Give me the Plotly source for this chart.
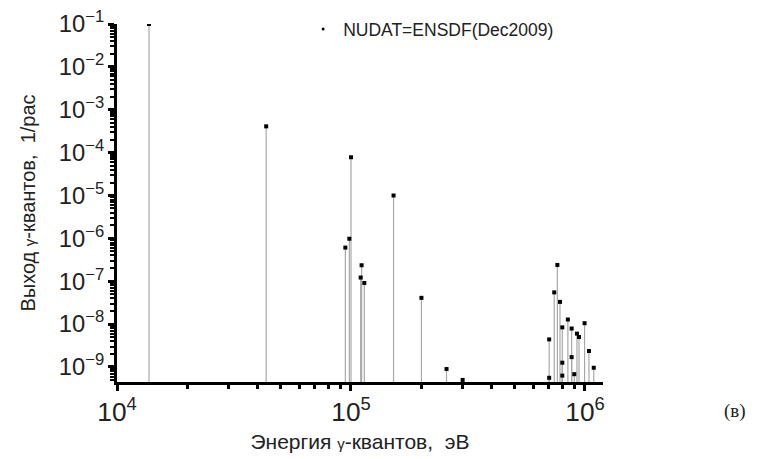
import plotly.graph_objects as go

# Gamma-line energies (eV) and yields (1/decay)
energies = [1.37e4, 4.34e4, 9.46e4, 9.84e4, 1.00e5, 1.10e5, 1.11e5, 1.14e5,
            1.52e5, 2.00e5, 2.56e5, 3.00e5,
            7.03e5, 7.03e5, 7.39e5, 7.62e5, 7.82e5, 8.00e5, 8.00e5, 8.00e5,
            8.45e5, 8.77e5, 8.77e5, 9.00e5, 9.24e5, 9.43e5, 9.96e5, 1.04e6, 1.09e6]
yields = [1.0e-1, 4.1e-4, 6.1e-7, 9.8e-7, 7.8e-5, 1.22e-7, 2.36e-7, 9.1e-8,
          1.0e-5, 4.1e-8, 9.0e-10, 5.0e-10,
          4.4e-9, 5.6e-10, 5.5e-8, 2.4e-7, 3.3e-8, 8.4e-9, 1.26e-9, 6.3e-10,
          1.28e-8, 7.9e-9, 1.7e-9, 6.8e-10, 6.0e-9, 5.0e-9, 1.05e-8, 2.36e-9, 9.6e-10]

legend_name = "NUDAT=ENSDF(Dec2009)"
x_title = "Энергия <span style='font-size:15px'>γ</span>-квантов,  эВ"
y_title = "Выход <span style='font-size:15px'>γ</span>-квантов,  1/рас"
panel_label = "(в)"

x_log_range = [4, 6.077]
y_log_range = [-9.35, -1]
y_floor = 10 ** y_log_range[0]

stem_x, stem_y = [], []
for e, v in zip(energies, yields):
    stem_x += [e, e, None]
    stem_y += [y_floor, v, None]

font_family = "Liberation Sans, Arial, sans-serif"

fig = go.Figure()
fig.add_trace(go.Scatter(
    x=stem_x, y=stem_y, mode="lines",
    line=dict(color="#a8a8a8", width=1.2),
    showlegend=False, hoverinfo="skip"))
fig.add_trace(go.Scatter(
    x=energies, y=yields, mode="markers",
    marker=dict(symbol="square", size=4, color="black"),
    showlegend=False))
fig.add_trace(go.Scatter(
    x=[None], y=[None], mode="markers", name=legend_name,
    marker=dict(symbol="circle", size=3, color="black")))

axis_common = dict(
    type="log", showgrid=False, zeroline=False, automargin=False,
    showline=True, linecolor="black", linewidth=3,
    ticks="outside", tickcolor="black", tickwidth=2.5, ticklen=6,
    exponentformat="power", showexponent="all",
    mirror=False,
)

fig.update_xaxes(
    **axis_common, range=x_log_range, dtick=1,
    tickfont=dict(size=21, color="#222", family=font_family),
    minor=dict(ticks="outside", ticklen=4, tickwidth=2.5, tickcolor="black", dtick="D1"),
    title=dict(text=x_title, font=dict(size=21, color="#222", family=font_family), standoff=8),
)
fig.update_yaxes(
    **axis_common, range=y_log_range, dtick=1,
    tickfont=dict(size=19, color="#222", family=font_family),
    minor=dict(ticks="outside", ticklen=4, tickwidth=2, tickcolor="black", dtick="D1"),
    title=dict(text=y_title, font=dict(size=20, color="#222", family=font_family), standoff=18),
)

fig.add_annotation(
    text=panel_label, xref="paper", yref="paper", x=1.271, y=-0.08,
    xanchor="center", yanchor="middle",
    showarrow=False, font=dict(size=19, color="#222", family="Liberation Serif, serif"))

fig.update_layout(
    width=776, height=459,
    margin=dict(l=117, r=173, t=23, b=77),
    paper_bgcolor="white", plot_bgcolor="white",
    font=dict(family=font_family, color="#222"),
    legend=dict(x=0.383, y=0.983, xanchor="left", yanchor="middle",
                bgcolor="rgba(0,0,0,0)", font=dict(size=17.5, color="#222", family=font_family)),
)

fig.write_html("out.html", config={"displayModeBar": False},
               post_script="document.body.style.margin='0';document.body.style.padding='0';")
